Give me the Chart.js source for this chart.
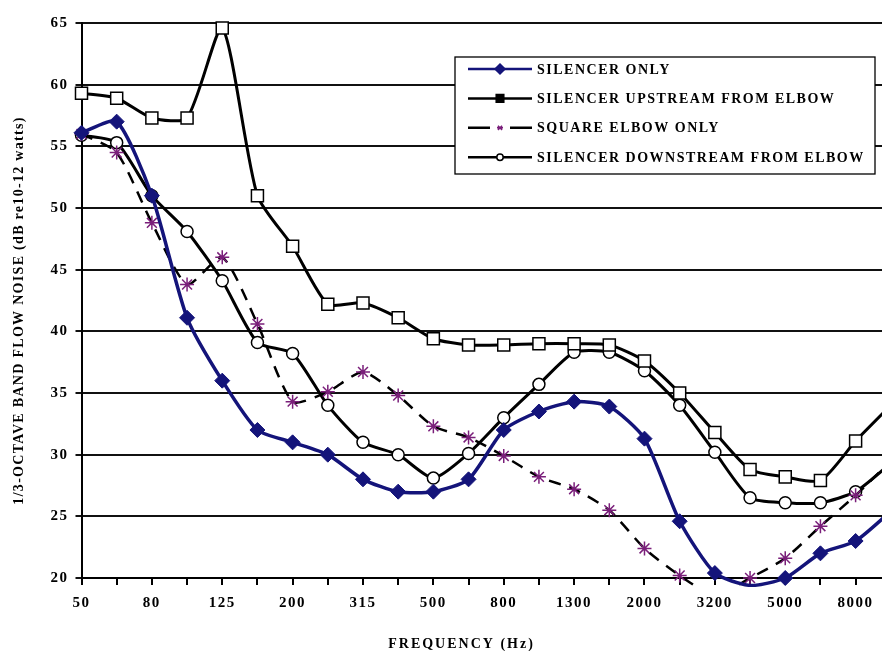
<!DOCTYPE html>
<html>
<head>
<meta charset="utf-8">
<script src="https://cdn.jsdelivr.net/npm/chart.js@4/dist/chart.umd.min.js"></script>
<style>
  html, body { margin: 0; padding: 0; background: #fff; overflow: hidden; }
  #wrap { position: relative; width: 882px; height: 651px; }
</style>
</head>
<body>
<div id="wrap"><canvas id="c" width="882" height="651"></canvas></div>
<script>
// 1/3-octave band centre frequencies (Hz), as labelled on the axis
const bands = ['50','63','80','100','125','160','200','250','315','400','500','630','800','1000','1300','1600','2000','2500','3200','4000','5000','6300','8000','10000'];
// Bands that carry a printed tick label
const labeledBands = ['50','80','125','200','315','500','800','1300','2000','3200','5000','8000'];

// Flow noise levels, dB re 10^-12 W
const silencerOnly = [56.1, 57.0, 51.0, 41.1, 36.0, 32.0, 31.0, 30.0, 28.0, 27.0, 27.0, 28.0, 32.0, 33.5, 34.3, 33.9, 31.3, 24.6, 20.4, 19.4, 20.0, 22.0, 23.0, 25.4];
const silencerUpstream = [59.3, 58.9, 57.3, 57.3, 64.6, 51.0, 46.9, 42.2, 42.3, 41.1, 39.4, 38.9, 38.9, 39.0, 39.0, 38.9, 37.6, 35.0, 31.8, 28.8, 28.2, 27.9, 31.1, 34.0];
const squareElbowOnly = [56.0, 54.5, 48.8, 43.8, 46.0, 40.6, 34.3, 35.1, 36.7, 34.8, 32.3, 31.4, 29.9, 28.2, 27.2, 25.5, 22.4, 20.2, 18.6, 20.0, 21.6, 24.2, 26.7, 29.5];
const silencerDownstream = [55.9, 55.3, 51.0, 48.1, 44.1, 39.1, 38.2, 34.0, 31.0, 30.0, 28.1, 30.1, 33.0, 35.7, 38.3, 38.3, 36.8, 34.0, 30.2, 26.5, 26.1, 26.1, 27.0, 29.3];

const seriesNames = ['SILENCER ONLY', 'SILENCER UPSTREAM FROM ELBOW', 'SQUARE ELBOW ONLY', 'SILENCER DOWNSTREAM FROM ELBOW'];
const yTitle = '1/3-OCTAVE BAND FLOW NOISE (dB re10-12 watts)';
const xTitle = 'FREQUENCY (Hz)';

// the frequency axis is cut off just before the last band
const visibleBands = 22.75;

const FONT = '"Liberation Serif", "Times New Roman", serif';
const NAVY = '#14147a';
const PURPLE = '#7a1f7a';
const SPACING = '1.5px';

Chart.defaults.font.family = FONT;
Chart.defaults.font.size = 15;
Chart.defaults.font.weight = 'bold';
Chart.defaults.color = '#000';

// each band sits at its index along the frequency axis
const toPoints = values => values.map((v, i) => ({ x: i, y: v }));

// markers below the axis minimum are not drawn
const hideBelowMin = r => ctx => (ctx.parsed && ctx.parsed.y < 20 ? 0 : r);

const clipBox = { left: 12, top: 12, right: 12, bottom: 9 };

const letterSpacing = {
  id: 'letterSpacing',
  beforeLayout(chart) { chart.ctx.letterSpacing = SPACING; },
  beforeDraw(chart) { chart.ctx.letterSpacing = SPACING; }
};

function marker(ctx, style, x, y, r, fill, stroke, lw) {
  ctx.save();
  ctx.lineWidth = lw;
  ctx.strokeStyle = stroke;
  ctx.fillStyle = fill;
  ctx.setLineDash([]);
  ctx.beginPath();
  if (style === 'rectRot') {
    ctx.moveTo(x, y - r); ctx.lineTo(x + r, y); ctx.lineTo(x, y + r); ctx.lineTo(x - r, y); ctx.closePath();
    ctx.fill(); ctx.stroke();
  } else if (style === 'rect') {
    ctx.rect(x - r, y - r, 2 * r, 2 * r); ctx.fill(); ctx.stroke();
  } else if (style === 'circle') {
    ctx.arc(x, y, r, 0, Math.PI * 2); ctx.fill(); ctx.stroke();
  } else if (style === 'star') {
    ctx.moveTo(x - r, y); ctx.lineTo(x + r, y);
    ctx.moveTo(x - r * 0.7, y - r * 0.7); ctx.lineTo(x + r * 0.7, y + r * 0.7);
    ctx.moveTo(x - r * 0.7, y + r * 0.7); ctx.lineTo(x + r * 0.7, y - r * 0.7);
    ctx.stroke();
  }
  ctx.restore();
}

// Boxed legend sitting in the upper right of the plot area
const boxedLegend = {
  id: 'boxedLegend',
  afterDatasetsDraw(chart) {
    const ctx = chart.ctx;
    const a = chart.chartArea;
    const w = 420, h = 117;
    const left = a.right - 7 - w, top = a.top + 34;
    ctx.save();
    ctx.setLineDash([]);
    ctx.fillStyle = '#fff';
    ctx.fillRect(left, top, w, h);
    ctx.strokeStyle = '#000';
    ctx.lineWidth = 1.3;
    ctx.strokeRect(left, top, w, h);
    const legendMarks = [
      { style: 'rectRot', r: 5, fill: NAVY, stroke: NAVY },
      { style: 'rect', r: 3.8, fill: '#000', stroke: '#000' },
      { style: 'star', r: 3, fill: PURPLE, stroke: PURPLE },
      { style: 'circle', r: 3.2, fill: '#fff', stroke: '#000' }
    ];
    chart.data.datasets.forEach((ds, i) => {
      const y = top + 12 + i * 29.4;
      const x0 = left + 13, x1 = left + 77, xm = (x0 + x1) / 2;
      ctx.save();
      ctx.strokeStyle = ds.borderColor;
      ctx.lineWidth = 2.5;
      ctx.setLineDash(ds.borderDash && ds.borderDash.length ? [22, 20] : []);
      ctx.beginPath(); ctx.moveTo(x0, y); ctx.lineTo(x1, y); ctx.stroke();
      ctx.restore();
      const m = legendMarks[i];
      marker(ctx, m.style, xm, y, m.r, m.fill, m.stroke, 1.5);
      ctx.fillStyle = '#000';
      ctx.font = 'bold 14px ' + FONT;
      ctx.letterSpacing = SPACING;
      ctx.textAlign = 'left';
      ctx.textBaseline = 'middle';
      ctx.fillText(ds.label, left + 82, y + 1);
    });
    ctx.restore();
  }
};

// Axis titles
const axisTitles = {
  id: 'axisTitles',
  afterDraw(chart) {
    const ctx = chart.ctx;
    const a = chart.chartArea;
    const x = chart.scales.x;
    ctx.save();
    ctx.fillStyle = '#000';
    ctx.font = 'bold 14px ' + FONT;
    ctx.letterSpacing = '1.3px';
    ctx.textAlign = 'center';
    ctx.textBaseline = 'middle';
    ctx.save();
    ctx.translate(a.left - 62, (a.top + a.bottom) / 2 + 10);
    ctx.rotate(-Math.PI / 2);
    ctx.fillText(yTitle, 0, 0);
    ctx.restore();
    ctx.letterSpacing = '2px';
    ctx.fillText(xTitle, x.getPixelForValue(10.8), a.bottom + 66);
    ctx.restore();
  }
};

const isBand = v => Number.isInteger(v) && v >= 0 && v < bands.length;

new Chart(document.getElementById('c'), {
  type: 'line',
  data: {
    datasets: [
      {
        label: seriesNames[0], data: toPoints(silencerOnly),
        borderColor: NAVY, borderWidth: 3.5, tension: 0.22,
        pointStyle: 'rectRot', pointRadius: hideBelowMin(7.5),
        pointBackgroundColor: NAVY, pointBorderColor: NAVY, pointBorderWidth: 1,
        clip: clipBox
      },
      {
        label: seriesNames[1], data: toPoints(silencerUpstream),
        borderColor: '#000', borderWidth: 3, tension: 0.22,
        pointStyle: 'rect', pointRadius: hideBelowMin(8.5),
        pointBackgroundColor: '#fff', pointBorderColor: '#000', pointBorderWidth: 1.5,
        clip: clipBox
      },
      {
        label: seriesNames[2], data: toPoints(squareElbowOnly),
        borderColor: '#000', borderWidth: 2.5, borderDash: [12, 9], tension: 0.22,
        pointStyle: 'star', pointRadius: hideBelowMin(7),
        pointBackgroundColor: PURPLE, pointBorderColor: PURPLE, pointBorderWidth: 1.5,
        clip: clipBox
      },
      {
        label: seriesNames[3], data: toPoints(silencerDownstream),
        borderColor: '#000', borderWidth: 3, tension: 0.22,
        pointStyle: 'circle', pointRadius: hideBelowMin(6),
        pointBackgroundColor: '#fff', pointBorderColor: '#000', pointBorderWidth: 1.5,
        clip: clipBox
      }
    ]
  },
  options: {
    responsive: false,
    animation: false,
    devicePixelRatio: 1,
    layout: { autoPadding: false, padding: { top: 23, right: 0, left: 0, bottom: 0 } },
    plugins: { legend: { display: false }, tooltip: { enabled: false } },
    scales: {
      x: {
        type: 'linear',
        min: 0, max: visibleBands,
        offset: false,
        afterBuildTicks(s) {
          s.ticks = bands.map((b, i) => ({ value: i })).filter(t => t.value <= visibleBands);
        },
        grid: {
          display: true, drawOnChartArea: false, drawTicks: true, tickLength: 7, lineWidth: 2,
          color: '#000'
        },
        border: { display: true, color: '#000', width: 2 },
        ticks: {
          autoSkip: false, maxRotation: 0, minRotation: 0, padding: 0,
          font: { lineHeight: 2.4 },
          callback: v => (isBand(v) && labeledBands.includes(bands[v]) ? bands[v] : '')
        },
        afterFit(s) { s.height = 73; s.paddingLeft = 0; s.paddingRight = 0; }
      },
      y: {
        min: 20, max: 65,
        grid: { color: '#111', lineWidth: 2, tickLength: 6 },
        border: { display: true, color: '#000', width: 2 },
        ticks: { stepSize: 5, padding: 7 },
        afterFit(s) { s.width = 81.5; }
      }
    }
  },
  plugins: [letterSpacing, boxedLegend, axisTitles]
});
</script>
</body>
</html>
